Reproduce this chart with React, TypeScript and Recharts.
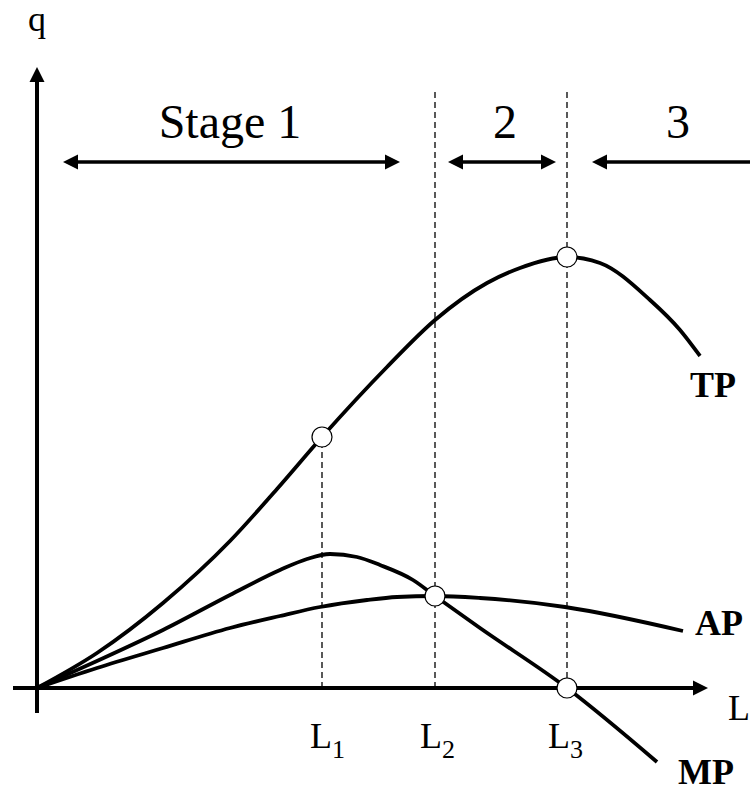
import React from 'react';
import { ComposedChart, Line, Scatter, XAxis, YAxis, ReferenceLine, ReferenceDot } from 'recharts';

// Labour input (x) and output (y), in chart units
const LABOR_TP = [0, 60, 126, 193, 240, 285, 350, 398, 450, 483, 530, 563, 613, 643, 663];
const TP = [0, 35, 85, 147, 199, 251, 321, 368, 405, 420, 431, 425, 388, 358, 332];
const LABOR_MP = [0, 60, 126, 193, 243, 270, 293, 320, 343, 376, 398, 443, 530, 620];
const MP = [0, 27, 58, 93, 118, 129, 134, 131, 123, 108, 92, 60, 0, -74];
const LABOR_AP = [0, 60, 126, 193, 243, 283, 330, 360, 398, 443, 528, 646];
const AP = [0, 20, 40, 60, 72, 81, 88, 91, 92, 90, 81, 57];

// Key labour levels L1, L2, L3 and their marked points
const L_LEVELS = [285, 398, 530];
const L_NAMES = ['1', '2', '3'];
const MARK_X = [285, 398, 530, 530];
const MARK_Y = [251, 92, 431, 0];
const DASH_TOP = [251, 600, 600];

// Stages of production
const STAGE_NAMES = ['Stage 1', '2', '3'];
const STAGE_FROM = [26, 411, 555];
const STAGE_TO = [363, 519, 716];
const STAGE_HEADS: ('both' | 'start')[] = ['both', 'both', 'start'];
const STAGE_TEXT_X = [193, 468, 641];

const CURVE_NAMES = ['TP', 'AP', 'MP'];

const zip = (xs: number[], ys: number[]) => xs.map((x, i) => ({ x, y: ys[i] }));
const tpData = zip(LABOR_TP, TP);
const mpData = zip(LABOR_MP, MP);
const apData = zip(LABOR_AP, AP);
const markData = zip(MARK_X, MARK_Y);

const FONT = '"Liberation Serif", "Times New Roman", serif';

const arrowShape = (heads: 'start' | 'end' | 'both', sw: number, hl: number, hw: number) => (p: any) => {
  const { x1, y1, x2, y2 } = p;
  const dx = x2 - x1;
  const dy = y2 - y1;
  const len = Math.sqrt(dx * dx + dy * dy) || 1;
  const ux = dx / len;
  const uy = dy / len;
  const nx = -uy;
  const ny = ux;
  const head = (tx: number, ty: number, dirx: number, diry: number) => {
    const bx = tx - dirx * hl;
    const by = ty - diry * hl;
    return `${tx},${ty} ${bx + nx * hw},${by + ny * hw} ${bx - nx * hw},${by - ny * hw}`;
  };
  const hasStart = heads === 'start' || heads === 'both';
  const hasEnd = heads === 'end' || heads === 'both';
  const sx = hasStart ? x1 + ux * (hl - 1) : x1;
  const sy = hasStart ? y1 + uy * (hl - 1) : y1;
  const ex = hasEnd ? x2 - ux * (hl - 1) : x2;
  const ey = hasEnd ? y2 - uy * (hl - 1) : y2;
  return (
    <g>
      <line x1={sx} y1={sy} x2={ex} y2={ey} stroke="#000" strokeWidth={sw} />
      {hasStart && <polygon points={head(x1, y1, -ux, -uy)} fill="#000" />}
      {hasEnd && <polygon points={head(x2, y2, ux, uy)} fill="#000" />}
    </g>
  );
};

const textShape = (content: React.ReactNode, opts: { size: number; anchor?: string; bold?: boolean }) => (p: any) => (
  <text
    x={p.cx}
    y={p.cy}
    fontFamily={FONT}
    fontSize={opts.size}
    fontWeight={opts.bold ? 'bold' : 'normal'}
    textAnchor={opts.anchor || 'start'}
    fill="#000"
  >
    {content}
  </text>
);

const circleShape = (p: any) => <circle cx={p.cx} cy={p.cy} r={10} fill="#fff" stroke="#000" strokeWidth={1.2} />;

const labelPos: Record<string, [number, number]> = { TP: [653, 291], AP: [658, 53], MP: [641, -96] };
const L_TEXT_X = [273, 383, 511];

export default function App() {
  return (
    <div style={{ position: 'absolute', left: 0, top: 0, width: 750, height: 794, background: '#fff' }}>
      <ComposedChart width={750} height={794} margin={{ top: 38, right: 13, bottom: 6, left: 37 }}>
        <XAxis dataKey="x" type="number" domain={[0, 700]} hide allowDataOverflow />
        <YAxis type="number" domain={[-100, 650]} hide allowDataOverflow />

        {/* dashed guides */}
        {L_LEVELS.map((lx, i) => (
          <ReferenceLine
            key={`d${i}`}
            segment={[{ x: lx, y: 0 }, { x: lx, y: DASH_TOP[i] }]}
            stroke="#000"
            strokeWidth={1.3}
            strokeDasharray="6 4"
            ifOverflow="visible"
          />
        ))}

        {/* axes */}
        <ReferenceLine
          segment={[{ x: -24, y: 0 }, { x: 671, y: 0 }]}
          ifOverflow="visible"
          shape={arrowShape('end', 4, 15, 7.5)}
        />
        <ReferenceLine
          segment={[{ x: 0, y: -25 }, { x: 0, y: 621 }]}
          ifOverflow="visible"
          shape={arrowShape('end', 4, 15, 7.5)}
        />

        {/* stage arrows */}
        {STAGE_FROM.map((sx, i) => (
          <ReferenceLine
            key={`s${i}`}
            segment={[{ x: sx, y: 526 }, { x: STAGE_TO[i], y: 526 }]}
            ifOverflow="visible"
            shape={arrowShape(STAGE_HEADS[i], 3.5, 15, 7.5)}
          />
        ))}
        {STAGE_NAMES.map((s, i) => (
          <ReferenceDot key={`st${i}`} x={STAGE_TEXT_X[i]} y={550} r={0} ifOverflow="visible"
            shape={textShape(s, { size: 48, anchor: 'middle' })} />
        ))}

        <Line data={tpData} dataKey="y" type="monotone" stroke="#000" strokeWidth={3.8} dot={false} isAnimationActive={false} />
        <Line data={mpData} dataKey="y" type="monotone" stroke="#000" strokeWidth={3.8} dot={false} isAnimationActive={false} />
        <Line data={apData} dataKey="y" type="monotone" stroke="#000" strokeWidth={3.8} dot={false} isAnimationActive={false} />

        <Scatter data={markData} dataKey="y" shape={circleShape} isAnimationActive={false} />

        {CURVE_NAMES.map((n) => (
          <ReferenceDot key={n} x={labelPos[n][0]} y={labelPos[n][1]} r={0} ifOverflow="visible"
            shape={textShape(n, { size: 36, bold: true })} />
        ))}

        {L_NAMES.map((n, i) => (
          <ReferenceDot key={`l${i}`} x={L_TEXT_X[i]} y={-60} r={0} ifOverflow="visible"
            shape={textShape(
              <>
                <tspan>L</tspan>
                <tspan dy={10} fontSize={26}>{n}</tspan>
              </>,
              { size: 36 }
            )} />
        ))}

        <ReferenceDot x={0} y={657} r={0} ifOverflow="visible" shape={textShape('q', { size: 36, anchor: 'middle' })} />
        <ReferenceDot x={691} y={-32} r={0} ifOverflow="visible" shape={textShape('L', { size: 36 })} />
      </ComposedChart>
    </div>
  );
}
